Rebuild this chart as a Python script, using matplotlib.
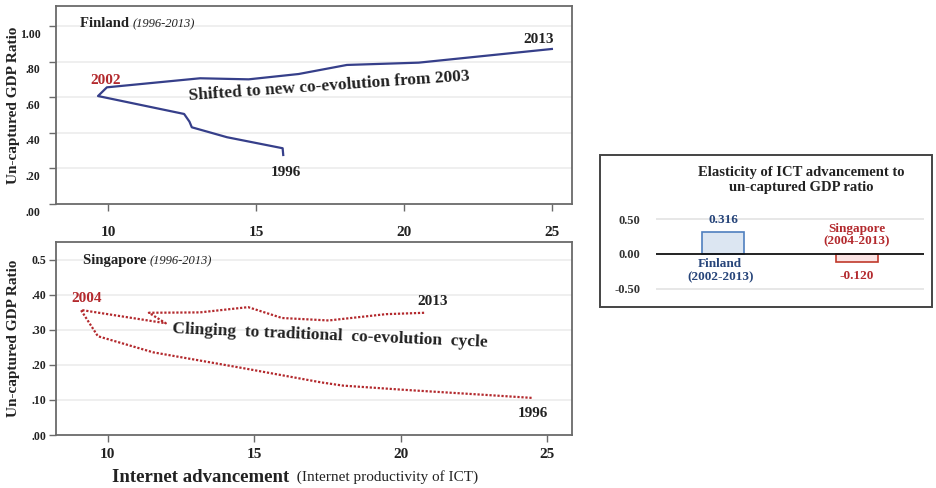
import matplotlib
matplotlib.use("Agg")
import matplotlib.pyplot as plt
from matplotlib.patches import Rectangle
from matplotlib.transforms import ScaledTranslation

plt.rcParams['font.family'] = ['Liberation Serif', 'DejaVu Serif']

# Finland path, 1996 -> 2013 (internet productivity of ICT, un-captured GDP ratio)
fin_x = [15.92, 15.90, 14.02, 12.83, 12.75, 12.57, 9.66, 9.96,
         13.11, 14.75, 16.44, 18.07, 20.50, 25.00]
fin_y = [0.276, 0.314, 0.376, 0.432, 0.464, 0.507, 0.608, 0.657,
         0.708, 0.702, 0.732, 0.783, 0.796, 0.873]

# Singapore path, 1996 -> 2013
sgp_x = [24.47, 22.80, 20.11, 18.03, 17.30, 14.61, 11.55, 9.66, 9.08,
         11.98, 11.40, 13.14, 14.79, 15.95, 17.54, 19.50, 20.84]
sgp_y = [0.106, 0.115, 0.129, 0.141, 0.150, 0.191, 0.236, 0.282, 0.357,
         0.319, 0.349, 0.350, 0.365, 0.334, 0.327, 0.345, 0.349]

# elasticity of ICT advancement to un-captured GDP ratio
countries = ['Finland', 'Singapore']
periods = ['2002-2013', '2004-2013']
elasticity = [0.316, -0.120]

fin_yticks = [0.0, 0.2, 0.4, 0.6, 0.8, 1.0]
fin_ylabels = ['.00', '.20', '.40', '.60', '.80', '1.00']
sgp_yticks = [0.0, 0.1, 0.2, 0.3, 0.4, 0.5]
sgp_ylabels = ['.00', '.10', '.20', '.30', '.40', '0.5']
xticks = [10, 15, 20, 25]

navy = '#363f8a'
red = '#b3292d'
dark = '#222222'
spine_c = '#6a6a6a'

W, H = 936, 488
fig = plt.figure(figsize=(W / 100, H / 100), dpi=100)


def frame(px_left, px_top, px_right, px_bottom):
    return [px_left / W, 1 - px_bottom / H, (px_right - px_left) / W, (px_bottom - px_top) / H]


def style_panel(ax, yticks, ylabels, xpad, ypad):
    for s in ax.spines.values():
        s.set_color(spine_c)
        s.set_linewidth(1.3)
    ax.set_xticks(xticks)
    ax.set_xticklabels([str(t) for t in xticks], fontsize=11, fontweight='bold', color=dark)
    ax.set_yticks(yticks)
    ax.set_yticklabels(ylabels, fontsize=8.5, fontweight='bold', color=dark)
    ax.tick_params(axis='x', direction='out', length=5, width=1, color=spine_c, pad=xpad)
    ax.tick_params(axis='y', direction='out', length=5, width=1, color=spine_c, pad=ypad)
    for t in yticks[1:]:
        ax.axhline(t, color='#ececec', lw=1.2, zorder=0)
    ax.set_ylabel('Un-captured GDP Ratio', fontsize=11, fontweight='bold', color=dark)
    ax.yaxis.set_label_coords(-0.070, 0.5)


# Finland panel
ax1 = fig.add_axes(frame(56, 6, 572, 204))
ax1.plot(fin_x, fin_y, color=navy, lw=1.6)
ax1.set_xlim(8.24, 25.68)
ax1.set_ylim(0, 1.115)
style_panel(ax1, fin_yticks, fin_ylabels, xpad=11, ypad=6)
for lab in ax1.get_yticklabels():
    lab.set_transform(lab.get_transform() + ScaledTranslation(0, -0.07, fig.dpi_scale_trans))

t1 = ax1.text(9.04, 1.014, 'Finland ', fontsize=10.5, fontweight='bold', color=dark, va='center')
ax1.annotate('(1996-2013)', xy=(1, 0.5), xycoords=t1, va='center', ha='left',
             fontsize=9, fontstyle='italic', color=dark)
ax1.text(fin_x[7] - 0.04, fin_y[7] + 0.04, '2002', fontsize=11, fontweight='bold',
         color=red, ha='center', va='center')
ax1.text(fin_x[-1] - 0.44, fin_y[-1] + 0.055, '2013', fontsize=11, fontweight='bold',
         color=dark, ha='center', va='center')
ax1.text(fin_x[0] + 0.08, fin_y[0] - 0.10, '1996', fontsize=11, fontweight='bold',
         color=dark, ha='center', va='center')
ax1.text(17.49, 0.665, 'Shifted to new co-evolution from 2003', fontsize=12.5,
         fontweight='bold', color=dark, ha='center', va='center', rotation=4,
         rotation_mode='anchor')

# Singapore panel
ax2 = fig.add_axes(frame(56, 242, 572, 435))
ax2.plot(sgp_x, sgp_y, color=red, lw=1.6, linestyle=(0, (1, 0.8)))
ax2.set_xlim(8.23, 25.85)
ax2.set_ylim(0, 0.551)
style_panel(ax2, sgp_yticks, sgp_ylabels, xpad=4, ypad=2)

t2 = ax2.text(9.14, 0.497, 'Singapore ', fontsize=10.5, fontweight='bold', color=dark, va='center')
ax2.annotate('(1996-2013)', xy=(1, 0.5), xycoords=t2, va='center', ha='left',
             fontsize=9, fontstyle='italic', color=dark)
ax2.text(sgp_x[8] + 0.21, sgp_y[8] + 0.034, '2004', fontsize=11, fontweight='bold',
         color=red, ha='center', va='center')
ax2.text(sgp_x[-1] + 0.25, sgp_y[-1] + 0.031, '2013', fontsize=11, fontweight='bold',
         color=dark, ha='center', va='center')
ax2.text(sgp_x[0] + 0.05, sgp_y[0] - 0.046, '1996', fontsize=11, fontweight='bold',
         color=dark, ha='center', va='center')
ax2.text(17.6, 0.283, 'Clinging  to traditional  co-evolution  cycle', fontsize=12.5,
         fontweight='bold', color=dark, ha='center', va='center', rotation=-2.5,
         rotation_mode='anchor')

# shared x axis title
xl = fig.text(112 / W, 1 - 477 / H, 'Internet advancement', fontsize=13.5,
              fontweight='bold', color=dark, va='center', ha='left')
fig.add_artist(plt.Annotation('  (Internet productivity of ICT)', xy=(1, 0.5), xycoords=xl,
                              va='center', ha='left', fontsize=11, color=dark))

# elasticity box
fig.patches.append(Rectangle((600 / W, 1 - 307 / H), 332 / W, 152 / H,
                             transform=fig.transFigure, fill=False,
                             edgecolor='#444444', lw=1.4))
fig.text(801 / W, 1 - 180 / H, 'Elasticity of ICT advancement to\nun-captured GDP ratio',
         fontsize=10.5, fontweight='bold', color=dark, ha='center', va='center',
         linespacing=1.12)

ax3 = fig.add_axes(frame(656, 204, 924, 299))
pos = list(range(len(countries)))
ax3.bar(pos, elasticity, width=0.31, color=['#dce6f2', '#fbe3e3'],
        edgecolor=['#4f7fbf', '#c0392b'], lw=1.2, zorder=3)
ax3.set_xlim(-0.5, 1.5)
ax3.set_ylim(-0.65, 0.72)
for s in ax3.spines.values():
    s.set_visible(False)
ax3.set_xticks([])
ax3.set_yticks([-0.5, 0.0, 0.5])
ax3.set_yticklabels(['-0.50', '0.00', '0.50'], fontsize=9, fontweight='bold', color='#333333')
ax3.tick_params(axis='y', length=0, pad=11)
ax3.axhline(0.5, color='#e3e3e3', lw=1.2, zorder=0)
ax3.axhline(-0.5, color='#e3e3e3', lw=1.2, zorder=0)
ax3.axhline(0, color='#111111', lw=1.3, zorder=4)

label_cols = ['#27457a', '#b3292d']
for i, v in enumerate(elasticity):
    c = label_cols[i]
    if v >= 0:
        ax3.annotate(f'{v:.3f}', xy=(i, v), xytext=(0, 9), textcoords='offset points',
                     ha='center', va='center', fontsize=9.5, fontweight='bold', color=c)
        ax3.annotate(f'{countries[i]}\n({periods[i]})', xy=(i, 0), xytext=(-2, -12),
                     textcoords='offset points', ha='center', va='center',
                     fontsize=9.5, fontweight='bold', color=c, linespacing=1.1)
    else:
        ax3.annotate(f'{v:.3f}', xy=(i, v), xytext=(0, -10), textcoords='offset points',
                     ha='center', va='center', fontsize=9.5, fontweight='bold', color=c)
        ax3.annotate(f'{countries[i]}\n({periods[i]})', xy=(i, 0), xytext=(0, 13.5),
                     textcoords='offset points', ha='center', va='center',
                     fontsize=9.5, fontweight='bold', color=c, linespacing=1.1)

fig.savefig('out.png', dpi=100)
